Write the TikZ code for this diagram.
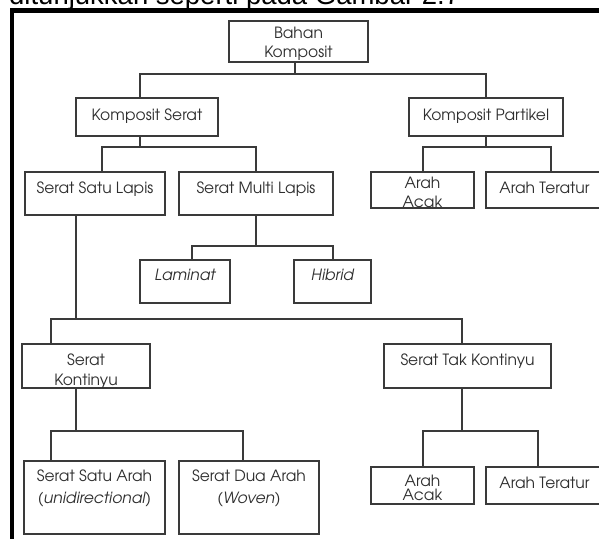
\documentclass[tikz,border=0pt]{standalone}
\usepackage{fontspec}
\newfontfamily\gothic{texgyreadventor-regular.otf}[ItalicFont=texgyreadventor-italic.otf]
\newfontfamily\capfont{Liberation Sans}
\definecolor{linec}{HTML}{3A3A3A}
\definecolor{txtc}{HTML}{2E2E2E}
% #1 width, #2 height, #3 first baseline from top, #4 line skip, #5 text
\newcommand{\cellbox}[5]{\parbox[c][#2][t]{#1}{\centering\baselineskip=#4\relax\rule{0pt}{#3}#5\par}}
\tikzset{
  box/.style={draw=linec, line width=1.1pt, inner sep=0pt, outer sep=0pt, anchor=north west,
    text=txtc, font=\gothic\fontsize{15.5}{19}\selectfont},
  conn/.style={draw=linec, line width=1.1pt},
  frame/.style={draw=black, line width=4.2pt},
}
\begin{document}
\begin{tikzpicture}[x=1pt,y=-1pt]
\useasboundingbox (0,0) rectangle (599,538);
\clip (0,0) rectangle (599,538);
% caption line (cut off at top)
\node[anchor=base west, inner sep=0pt, font=\capfont\fontsize{27.5}{32}\selectfont] (cap) at (9,5) {ditunjukkan seperti pada Gambar 2.7};
% frame
\draw[frame] (12,560) -- (12,10.5) -- (620,10.5);
% boxes
\node[box] (bahan) at (229,21) {\cellbox{139pt}{41pt}{17pt}{19pt}{Bahan\\Komposit}};
\node[box] (ks) at (76,98) {\cellbox{142pt}{38pt}{22pt}{19pt}{Komposit Serat}};
\node[box] (kp) at (409,98) {\cellbox{154pt}{38pt}{22pt}{19pt}{Komposit Partikel}};
\node[box] (ssl) at (25,172) {\cellbox{140pt}{43pt}{21pt}{19pt}{Serat Satu Lapis}};
\node[box] (sml) at (179,172) {\cellbox{154pt}{43pt}{21pt}{19pt}{Serat Multi Lapis}};
\node[box] (aa1) at (371,172) {\cellbox{103pt}{36pt}{16pt}{19pt}{Arah\\Acak}};
\node[box] (at1) at (486,172) {\cellbox{117pt}{36pt}{21pt}{19pt}{Arah Teratur}};
\node[box] (lam) at (140,260) {\cellbox{90pt}{43pt}{20pt}{19pt}{\itshape Laminat}};
\node[box] (hib) at (294,260) {\cellbox{77pt}{43pt}{20pt}{19pt}{\itshape Hibrid}};
\node[box] (sk) at (22,344) {\cellbox{128pt}{44pt}{21pt}{20pt}{Serat\\Kontinyu}};
\node[box] (stk) at (384,344) {\cellbox{167pt}{44pt}{21pt}{19pt}{Serat Tak Kontinyu}};
\node[box] (ssa) at (24,461) {\cellbox{141pt}{73pt}{20pt}{22pt}{Serat Satu Arah\\{\itshape (unidirectional)}}};
\node[box] (sda) at (179,461) {\cellbox{140pt}{73pt}{20pt}{22pt}{Serat Dua Arah\\{\itshape (Woven)}}};
\node[box] (aa2) at (371,467) {\cellbox{103pt}{37pt}{19pt}{14pt}{Arah\\Acak}};
\node[box] (at2) at (486,467) {\cellbox{117pt}{37pt}{21pt}{19pt}{Arah Teratur}};
% junction coordinates
\coordinate (b0) at (295,74);  \coordinate (bl) at (140,74);  \coordinate (br) at (486,74);
\coordinate (k0) at (140,147); \coordinate (kl) at (102,147); \coordinate (kr) at (256,147);
\coordinate (p0) at (486,147); \coordinate (pl) at (423,147); \coordinate (pr) at (551,147);
\coordinate (m0) at (256,246); \coordinate (ml) at (192,246); \coordinate (mr) at (333,246);
\coordinate (s0) at (76,319);  \coordinate (sl) at (51,319);  \coordinate (sr) at (462,319);
\coordinate (c0) at (76,431);  \coordinate (cl) at (51,431);  \coordinate (cr) at (243,431);
\coordinate (t0) at (462,431); \coordinate (tl) at (423,431); \coordinate (tr) at (538,431);
% connectors
\draw[conn] (bahan.south -| b0) -- (b0);
\draw[conn] (ks.north -| bl) -- (bl) -- (br) -- (kp.north -| br);
\draw[conn] (ks.south -| k0) -- (k0);
\draw[conn] (ssl.north -| kl) -- (kl) -- (kr) -- (sml.north -| kr);
\draw[conn] (kp.south -| p0) -- (p0);
\draw[conn] (aa1.north -| pl) -- (pl) -- (pr) -- (at1.north -| pr);
\draw[conn] (sml.south -| m0) -- (m0);
\draw[conn] (lam.north -| ml) -- (ml) -- (mr) -- (hib.north -| mr);
\draw[conn] (ssl.south -| s0) -- (s0);
\draw[conn] (sk.north -| sl) -- (sl) -- (sr) -- (stk.north -| sr);
\draw[conn] (sk.south -| c0) -- (c0);
\draw[conn] (ssa.north -| cl) -- (cl) -- (cr) -- (sda.north -| cr);
\draw[conn] (stk.south -| t0) -- (t0);
\draw[conn] (aa2.north -| tl) -- (tl) -- (tr) -- (at2.north -| tr);
\end{tikzpicture}
\end{document}
